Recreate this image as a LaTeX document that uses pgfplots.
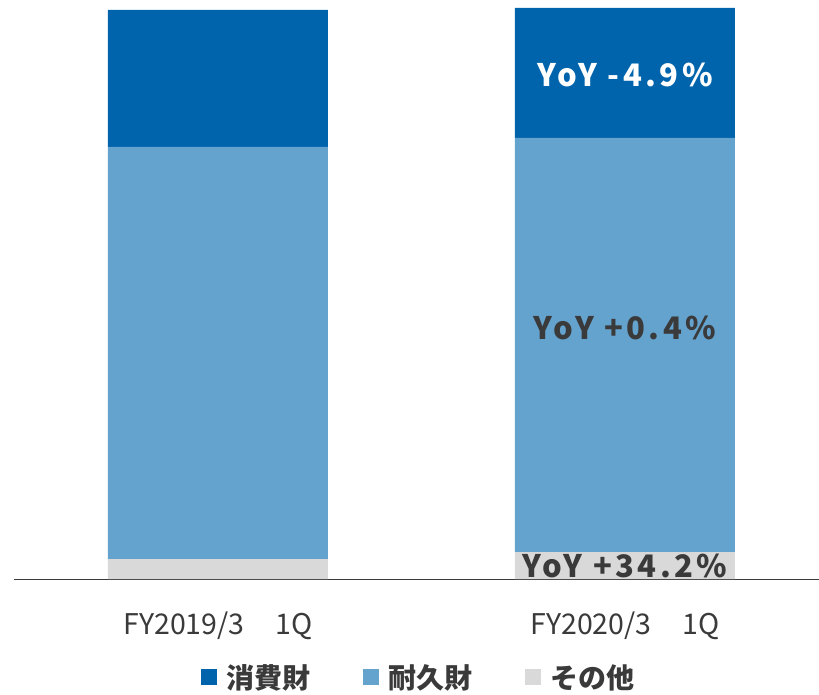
\documentclass[border=0pt]{standalone}
\usepackage{pgfplots}
\pgfplotsset{compat=1.18}
\usepackage{fontspec}
\setmainfont{Noto Sans CJK JP}

\definecolor{consum}{HTML}{0064AC}
\definecolor{durable}{HTML}{65A3CF}
\definecolor{others}{HTML}{D9D9D9}
\definecolor{txt}{HTML}{3A3A3A}

\newcommand{\yoy}{\fontsize{31bp}{34bp}\selectfont\bfseries\addfontfeature{LetterSpace=11}}

\begin{document}
\begin{tikzpicture}
\path[use as bounding box] (-14bp,-116bp) rectangle (805bp,579bp);
\begin{axis}[
    scale only axis,
    width=805bp, height=579bp,
    xmin=-0.501, xmax=1.477,
    ymin=0, ymax=579,
    ybar stacked, bar width=220bp,
    axis x line=bottom, axis y line=none,
    x axis line style={-, draw=txt, line width=0.8bp},
    xtick={0,1},
    xticklabels={FY2019/3\hspace{31bp}1Q, FY2020/3\hspace{31bp}1Q},
    major tick length=0,
    xticklabel style={font=\fontsize{28.5bp}{32bp}\selectfont, text=txt, yshift=-29bp},
    legend columns=3,
    reverse legend,
    legend style={at={(0.503,-0.17)}, anchor=center, draw=none, fill=none,
        font=\fontsize{28bp}{32bp}\selectfont\bfseries, text=txt,
        /tikz/every odd column/.append style={column sep=8bp},
        /tikz/every even column/.append style={column sep=50bp}},
    legend image code/.code={\fill[#1] (0bp,-8bp) rectangle (16bp,8bp);},
]
\addplot[fill=others, draw=none] coordinates {(0,20) (1,27)};
\addlegendentry{その他}
\addplot[fill=durable, draw=none] coordinates {(0,412) (1,414)};
\addlegendentry{耐久財}
\addplot[fill=consum, draw=none] coordinates {(0,137) (1,130)};
\addlegendentry{消費財}
\end{axis}
\begin{axis}[
    scale only axis,
    width=805bp, height=579bp,
    xmin=-0.501, xmax=1.477,
    ymin=0, ymax=579,
    hide axis,
]
\node[text=white, font=\yoy] at (axis cs:1,504) {YoY -4.9\%};
\node[text=txt, font=\yoy] at (axis cs:1,251) {YoY +0.4\%};
\node[text=txt, font=\yoy] at (axis cs:1,13) {YoY +34.2\%};
\end{axis}
\end{tikzpicture}
\end{document}
